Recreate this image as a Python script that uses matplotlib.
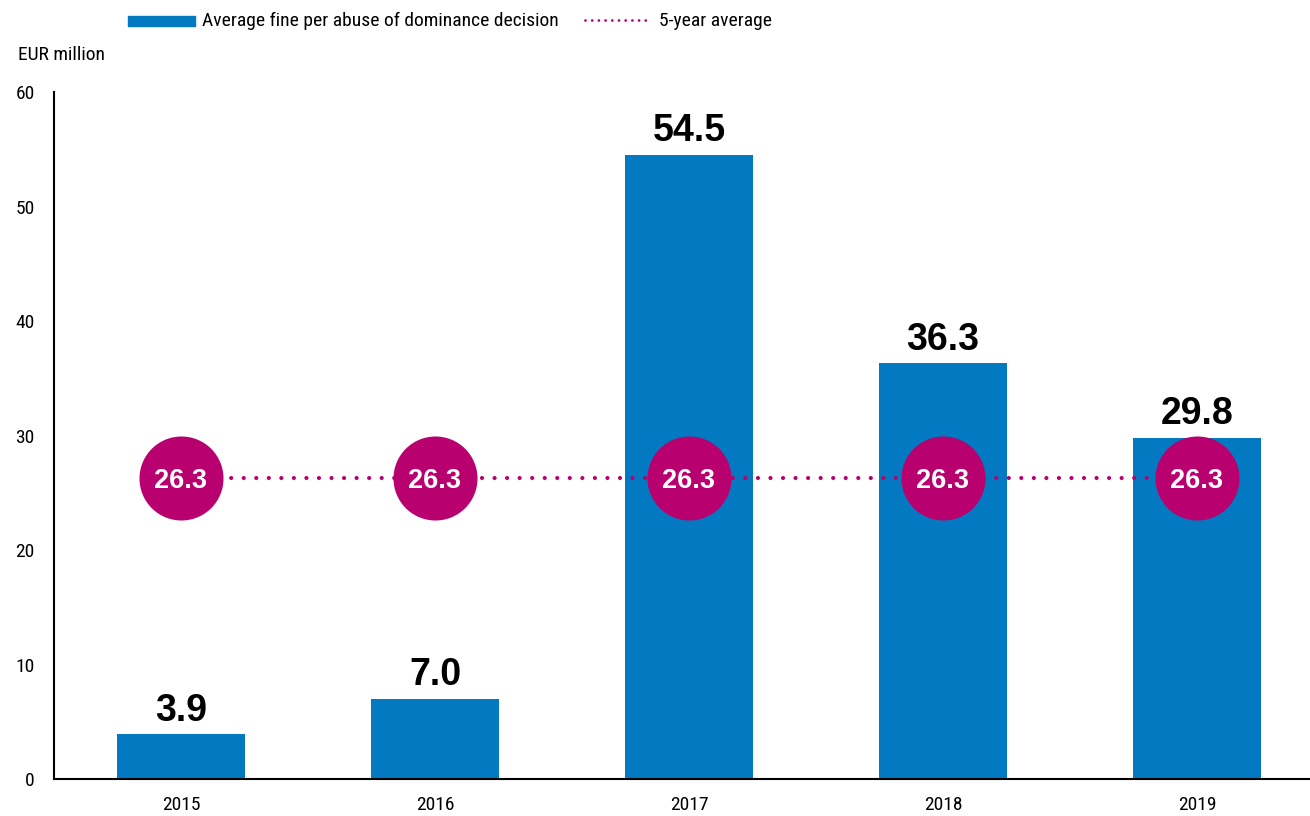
import matplotlib
matplotlib.use("Agg")
import matplotlib.pyplot as plt
from matplotlib.patches import Rectangle
from matplotlib.lines import Line2D
from matplotlib import font_manager

years = ["2015", "2016", "2017", "2018", "2019"]
avg_fine = [3.9, 7.0, 54.5, 36.3, 29.8]
five_year_avg = [26.3, 26.3, 26.3, 26.3, 26.3]
y_ticks = [0, 10, 20, 30, 40, 50, 60]

BLUE = "#0279C1"
MAGENTA = "#B8006E"

installed = {f.name for f in font_manager.fontManager.ttflist}


def first_installed(cands, default):
    for c in cands:
        if c in installed:
            return c
    return default


narrow = first_installed(["Liberation Sans Narrow", "Roboto Condensed", "Archivo Narrow",
                          "Fira Sans Condensed"], "DejaVu Sans")
bold = first_installed(["Liberation Sans", "Arimo"], "DejaVu Sans")
NARROW = dict(family=narrow, fontstretch="condensed")

W, H = 1310, 816
fig = plt.figure(figsize=(W / 100, H / 100), dpi=100)
ax = fig.add_axes([54 / W, 1 - 779 / H, 1 - 54 / W, (779 - 92) / H])

x = list(range(len(years)))
ax.bar(x, avg_fine, width=0.504, color=BLUE, zorder=2)

for xi, v in zip(x, avg_fine):
    ax.annotate(f"{v:.1f}", (xi, v), xytext=(0, 4), textcoords="offset points",
                ha="center", va="bottom", fontsize=27, fontweight="bold",
                family=bold, color="black")

ax.plot(x, five_year_avg, color=MAGENTA, lw=3, dashes=[0.01, 3.0],
        dash_capstyle="round", zorder=3)
ax.scatter(x, five_year_avg, s=3660, color=MAGENTA, zorder=4, linewidths=0)
for xi, v in zip(x, five_year_avg):
    ax.text(xi, v, f"{v:.1f}", ha="center", va="center_baseline", fontsize=19.5,
            fontweight="bold", family=bold, color="white", zorder=5)

ax.set_xlim(-0.5, 4.445)
ax.set_ylim(0, 60)
ax.set_xticks(x)
ax.set_xticklabels(years, fontsize=14, **NARROW)
ax.set_yticks(y_ticks)
ax.set_yticklabels([str(t) for t in y_ticks], fontsize=14, **NARROW)
ax.tick_params(axis="both", length=0)
ax.tick_params(axis="y", pad=14)
ax.tick_params(axis="x", pad=12)
for s in ["top", "right"]:
    ax.spines[s].set_visible(False)
for s in ["left", "bottom"]:
    ax.spines[s].set_linewidth(1.5)
    ax.spines[s].set_color("black")

fig.text(18 / W, 1 - 55 / H, "EUR million", fontsize=14,
         ha="left", va="center", **NARROW)

# legend
fig.add_artist(Rectangle((128 / W, 1 - 25.5 / H), 67 / W, 10 / H,
                         transform=fig.transFigure, color=BLUE))
fig.text(202 / W, 1 - 21 / H, "Average fine per abuse of dominance decision",
         fontsize=14, ha="left", va="center", **NARROW)
fig.add_artist(Line2D([585 / W, 651 / W], [1 - 20 / H, 1 - 20 / H],
                      transform=fig.transFigure, color=MAGENTA, lw=2,
                      dashes=[0.01, 2.4], dash_capstyle="round"))
fig.text(659 / W, 1 - 21 / H, "5-year average",
         fontsize=14, ha="left", va="center", **NARROW)

fig.savefig("out.png", dpi=100)
